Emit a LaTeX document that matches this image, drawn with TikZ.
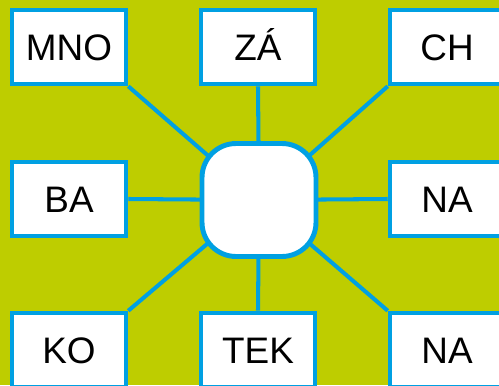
\documentclass[tikz,border=0pt]{standalone}
\usepackage{fontspec}
\setmainfont{Liberation Sans}
\definecolor{leaf}{RGB}{190,205,0}
\definecolor{sky}{RGB}{0,160,226}
\pgfdeclarelayer{back}
\pgfdeclarelayer{spokes}
\pgfsetlayers{back,spokes,main}

\begin{document}
\begin{tikzpicture}[x=0.02cm,y=-0.02cm,
		syllable/.style={draw=sky,fill=white,line width=2.6pt,minimum width=2.28cm,
			minimum height=1.48cm,inner sep=0pt,text height=14.8pt,text depth=0pt,
			font=\fontsize{21}{25}\selectfont},
		hub/.style={draw=sky,fill=white,line width=2.8pt,minimum width=2.28cm,
			minimum height=2.26cm,rounded corners=0.68cm},
		spoke/.style={draw=sky,line width=2.3pt}]
		\useasboundingbox (0,0) rectangle (499,385);
		\clip (0,0) rectangle (499,385);

		% Background
		\begin{pgfonlayer}{back}
			\fill[leaf] (0,0) rectangle (499,385);
		\end{pgfonlayer}

		% Syllables
		\node[syllable] (mno) at (69,47) {MNO};
		\node[syllable] (za) at (258,47) {ZÁ};
		\node[syllable] (ch) at (447,47) {CH};
		\node[syllable] (ba) at (69,199) {BA};
		\node[syllable] (na) at (447,199) {NA};
		\node[syllable] (ko) at (69,350) {KO};
		\node[syllable] (tek) at (258,350) {TEK};
		\node[syllable] (nab) at (447,350) {NA};

		% Hub
		\node[hub] (hub) at (259,200) {};

		% Spokes
		\begin{pgfonlayer}{spokes}
			\draw[spoke] (hub.center) -- (mno.south east);
			\draw[spoke] (hub.center) -- (za.south);
			\draw[spoke] (hub.center) -- (ch.south west);
			\draw[spoke] (hub.center) -- (ba.east);
			\draw[spoke] (hub.center) -- (na.west);
			\draw[spoke] (hub.center) -- (ko.north east);
			\draw[spoke] (hub.center) -- (tek.north);
			\draw[spoke] (hub.center) -- (nab.north west);
		\end{pgfonlayer}
	\end{tikzpicture}
\end{document}
